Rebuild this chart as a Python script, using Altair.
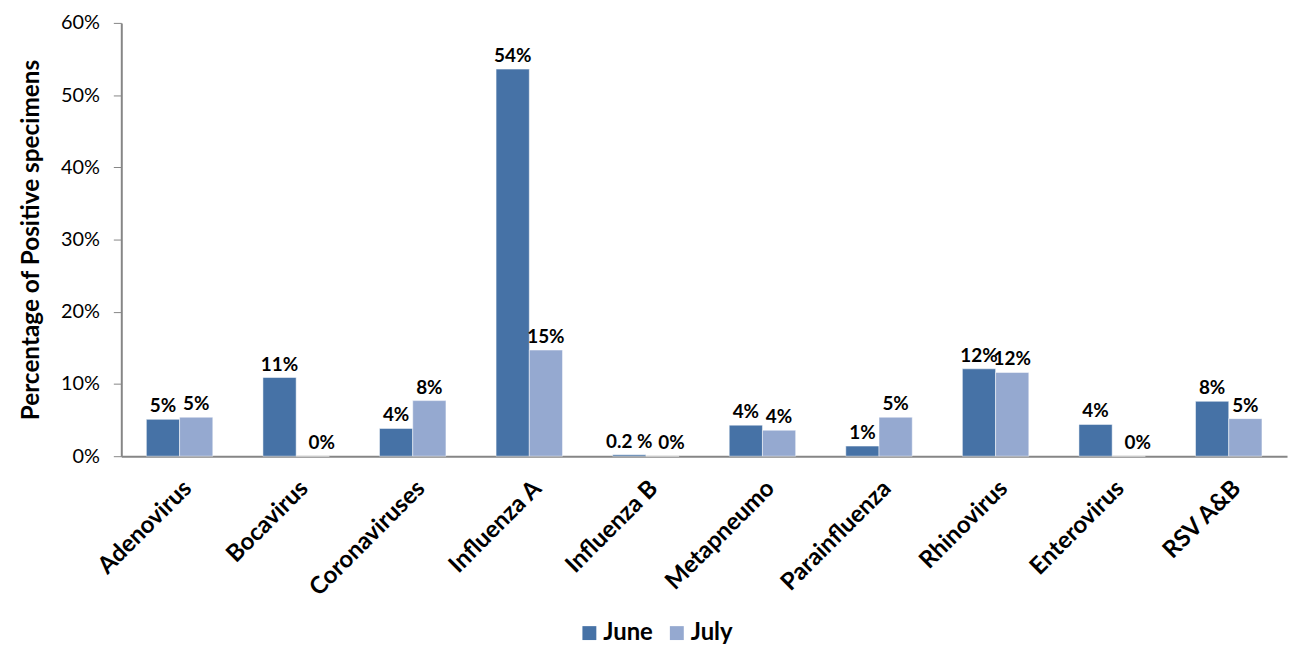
import altair as alt
import pandas as pd

categories = ["Adenovirus", "Bocavirus", "Coronaviruses", "Influenza A", "Influenza B",
              "Metapneumo", "Parainfluenza", "Rhinovirus", "Enterovirus", "RSV A&B"]
june = [5.1, 10.9, 3.85, 53.6, 0.2, 4.3, 1.4, 12.1, 4.4, 7.6]
july = [5.4, 0.0, 7.7, 14.7, 0.0, 3.6, 5.4, 11.6, 0.0, 5.2]
june_labels = ["5%", "11%", "4%", "54%", "0.2 %", "4%", "1%", "12%", "4%", "8%"]
july_labels = ["5%", "0%", "8%", "15%", "0%", "4%", "5%", "12%", "0%", "5%"]
months = ["June", "July"]
colors = ["#4672A6", "#95A9D0"]

rows = []
for i, c in enumerate(categories):
    rows.append({"cat": c, "month": "June", "value": june[i] / 100, "label": june_labels[i]})
    rows.append({"cat": c, "month": "July", "value": july[i] / 100, "label": july_labels[i]})
df = pd.DataFrame(rows)

FONT = "Lato"

x = alt.X("cat:N", sort=categories, title=None,
          scale=alt.Scale(paddingInner=0.43, paddingOuter=0.215),
          axis=alt.Axis(labelAngle=-45, labelFontSize=24, labelFontWeight="bold",
                        labelColor="#000000", labelFont=FONT, ticks=False,
                        domainColor="#868686", domainWidth=2, labelPadding=20,
                        labelAlign="right", labelBaseline="top"))
xoff = alt.XOffset("month:N", sort=months)
y = alt.Y("value:Q", title="Percentage of Positive specimens",
          scale=alt.Scale(domain=[0, 0.6]),
          axis=alt.Axis(format=".0%", values=[0, 0.1, 0.2, 0.3, 0.4, 0.5, 0.6],
                        grid=False, labelFontSize=20, labelColor="#000000", labelFont=FONT,
                        tickSize=8, tickColor="#868686", domainColor="#868686", domainWidth=2,
                        labelPadding=14, titleFontSize=24.5, titleFont=FONT,
                        titleFontWeight="bold", titleColor="#000000", titlePadding=17))
color = alt.Color("month:N", sort=months,
                  scale=alt.Scale(domain=months, range=colors),
                  legend=alt.Legend(title=None, orient="none", legendX=459, legendY=602,
                                    direction="horizontal", symbolType="square",
                                    symbolSize=196, symbolStrokeWidth=0,
                                    labelFontSize=24, labelFontWeight="bold",
                                    labelFont=FONT, labelColor="#000000",
                                    columnPadding=12, labelOffset=2))

base = alt.Chart(df)
bars = base.mark_bar(stroke="white", strokeWidth=0.5).encode(x=x, xOffset=xoff, y=y, color=color)
text_main = base.transform_filter("datum.value > 0").mark_text(
    baseline="bottom", dy=-3, fontSize=19, fontWeight="bold", font=FONT, color="#000000"
).encode(x=x, xOffset=xoff, y=y, text="label:N")
text_zero = base.transform_filter("datum.value <= 0").mark_text(
    baseline="bottom", dy=-3, dx=9, fontSize=19, fontWeight="bold", font=FONT, color="#000000"
).encode(x=x, xOffset=xoff, y=y, text="label:N")

chart = (bars + text_main + text_zero).properties(
    width=1173, height=436,
    padding={"left": 114, "top": 13, "right": 4, "bottom": 191},
    autosize=alt.AutoSizeParams(type="none"),
).configure(background="white").configure_view(strokeWidth=0, stroke="transparent")

chart.save("out.html", embed_options={"renderer": "svg", "actions": False})
